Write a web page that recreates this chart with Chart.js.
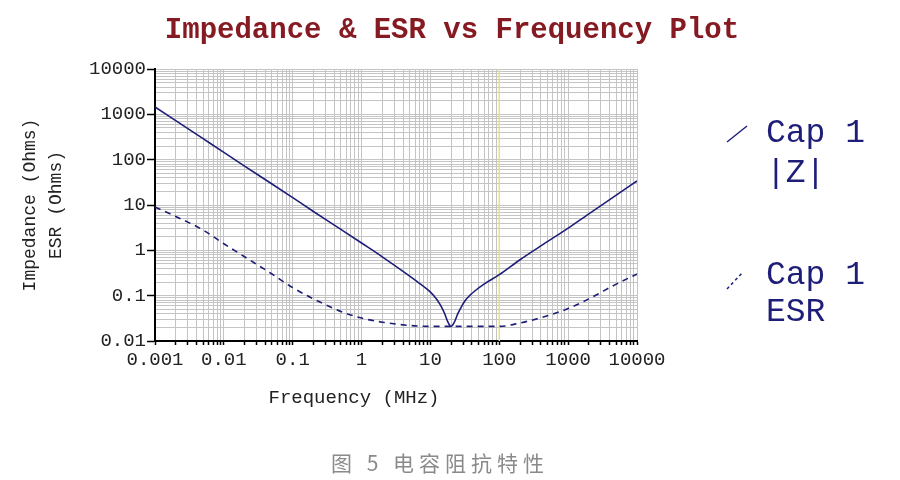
<!DOCTYPE html>
<html>
<head>
<meta charset="utf-8">
<title>Impedance & ESR vs Frequency Plot</title>
<script src="https://cdn.jsdelivr.net/npm/chart.js@4.4.1/dist/chart.umd.min.js"></script>
<style>
    html, body { margin: 0; padding: 0; background: #fff; }
</style>
</head>
<body>
<canvas id="graficaImpedancia" width="900" height="480"></canvas>
<script>
// Datos (frecuencia en MHz, valores en Ohms)
const freqZ = [0.001, 0.002, 0.005, 0.01, 0.02, 0.05, 0.1, 0.2, 0.5, 1, 2, 5, 7, 10, 12, 14, 16, 18, 20, 22, 25, 28, 32, 37, 45, 60, 100, 200, 500, 1000, 2000, 5000, 10000];
const zMag = [1450, 725, 290, 145, 72, 29, 14.5, 7.2, 2.9, 1.45, 0.72, 0.27, 0.185, 0.12, 0.088, 0.062, 0.041, 0.026, 0.021, 0.025, 0.04, 0.056, 0.078, 0.1, 0.13, 0.18, 0.29, 0.62, 1.55, 3.1, 6.4, 16.5, 34];

const freqEsr = [0.001, 0.002, 0.005, 0.01, 0.02, 0.05, 0.1, 0.2, 0.5, 1, 2, 5, 10, 20, 50, 100, 200, 500, 1000, 2000, 5000, 10000];
const esr = [9, 5.6, 2.8, 1.4, 0.72, 0.3, 0.15, 0.085, 0.045, 0.032, 0.026, 0.022, 0.021, 0.021, 0.021, 0.021, 0.025, 0.036, 0.052, 0.085, 0.18, 0.3];

// Etiquetas de los ejes
const xTickLabels = ['0.001', '0.01', '0.1', '1', '10', '100', '1000', '10000'];
const yTickLabels = ['0.01', '0.1', '1', '10', '100', '1000', '10000'];

// Textos de la leyenda y marcador vertical
const legendLines = [['Cap 1', '|Z|'], ['Cap 1', 'ESR']];
const markerFreq = 100;

const fuente = 'Liberation Mono';
const azul = '#1e1e78';

// Construye las lineas de la cuadricula: 1..9 por cada decada
function ticksLog(labels) {
    let decadas = labels.map(l => parseFloat(l));
    let lista = [];
    for (let i = 0; i < decadas.length - 1; i++) {
        for (let k = 1; k <= 9; k++) {
            lista.push(Number((k * decadas[i]).toPrecision(6)));
        }
    }
    lista.push(decadas[decadas.length - 1]);
    return lista;
}

function etiquetaPara(valor, labels) {
    let encontrada = labels.find(l => Math.abs(Math.log10(parseFloat(l)) - Math.log10(valor)) < 1e-6);
    return encontrada === undefined ? '' : encontrada;
}

function esDecada(valor, labels) {
    return etiquetaPara(valor, labels) !== '';
}

const xTicks = ticksLog(xTickLabels);
const yTicks = ticksLog(yTickLabels);

// Plugin para el titulo, la linea amarilla, la leyenda, el titulo del eje x y el pie de figura
const extras = {
    id: 'extras',
    beforeDatasetsDraw(chart) {
        let ctx = chart.ctx;
        let area = chart.chartArea;
        let x = chart.scales.x.getPixelForValue(markerFreq);
        ctx.save();
        ctx.strokeStyle = '#e2e27a';
        ctx.lineWidth = 1.5;
        ctx.beginPath();
        ctx.moveTo(x, area.top);
        ctx.lineTo(x, area.bottom);
        ctx.stroke();
        ctx.restore();
    },
    afterDraw(chart) {
        let ctx = chart.ctx;
        ctx.save();

        // Titulo principal
        ctx.fillStyle = '#861a22';
        ctx.font = 'bold 29px "' + fuente + '"';
        ctx.textAlign = 'center';
        ctx.textBaseline = 'middle';
        ctx.fillText('Impedance & ESR vs Frequency Plot', 452, 31);

        // Titulo del eje x
        ctx.fillStyle = '#222';
        ctx.font = '19px "' + fuente + '"';
        ctx.fillText('Frequency (MHz)', 354, 398);

        // Leyenda
        let posiciones = [
            { y1: 133, y2: 173, marca: [727, 142, 747, 126] },
            { y1: 275, y2: 312, marca: [727, 289, 743, 272] }
        ];
        chart.data.datasets.forEach((ds, i) => {
            let p = posiciones[i];
            ctx.strokeStyle = ds.borderColor;
            ctx.lineWidth = 1.5;
            ctx.setLineDash(ds.borderDash ? [3, 3] : []);
            ctx.beginPath();
            ctx.moveTo(p.marca[0], p.marca[1]);
            ctx.lineTo(p.marca[2], p.marca[3]);
            ctx.stroke();
            ctx.setLineDash([]);

            ctx.fillStyle = azul;
            ctx.font = '33px "' + fuente + '"';
            ctx.textAlign = 'left';
            ctx.textBaseline = 'middle';
            ctx.fillText(legendLines[i][0], 766, p.y1);
            ctx.fillText(legendLines[i][1], 766, p.y2);
        });

        // Pie de figura
        ctx.fillStyle = '#8a8a8a';
        ctx.font = '21px "Noto Sans CJK SC"';
        ctx.letterSpacing = '5px';
        ctx.textAlign = 'center';
        ctx.textBaseline = 'middle';
        ctx.fillText('图 5 电容阻抗特性', 440, 463);
        ctx.restore();
    }
};

let ctx = document.getElementById('graficaImpedancia').getContext('2d');

window.myChart = new Chart(ctx, {
    type: 'line',
    data: {
        datasets: [
            {
                label: legendLines[0].join(' '),
                data: freqZ.map((f, i) => ({ x: f, y: zMag[i] })),
                borderColor: azul,
                borderWidth: 1.6,
                pointRadius: 0,
                cubicInterpolationMode: 'monotone'
            },
            {
                label: legendLines[1].join(' '),
                data: freqEsr.map((f, i) => ({ x: f, y: esr[i] })),
                borderColor: azul,
                borderWidth: 1.6,
                borderDash: [6, 5],
                pointRadius: 0,
                cubicInterpolationMode: 'monotone'
            }
        ]
    },
    options: {
        responsive: false,
        animation: false,
        layout: {
            padding: { left: 0, right: 263, top: 69, bottom: 0 }
        },
        plugins: {
            legend: { display: false },
            tooltip: { enabled: false },
            title: { display: false }
        },
        scales: {
            x: {
                type: 'logarithmic',
                min: 0.001,
                max: 10000,
                afterBuildTicks: s => { s.ticks = xTicks.map(v => ({ value: v, major: esDecada(v, xTickLabels) })); },
                afterFit: s => { s.height = 139; },
                ticks: {
                    autoSkip: false,
                    maxRotation: 0,
                    padding: 4,
                    color: '#222',
                    font: { family: fuente, size: 19 },
                    callback: v => etiquetaPara(v, xTickLabels)
                },
                grid: {
                    color: '#c4c4c4',
                    lineWidth: 1,
                    tickLength: 4,
                    tickColor: '#000',
                    tickWidth: 1.5
                },
                border: { color: '#000', width: 2 }
            },
            y: {
                type: 'logarithmic',
                min: 0.01,
                max: 10000,
                afterBuildTicks: s => { s.ticks = yTicks.map(v => ({ value: v, major: esDecada(v, yTickLabels) })); },
                afterFit: s => { s.width = 155; },
                ticks: {
                    autoSkip: false,
                    padding: 1,
                    color: '#222',
                    font: { family: fuente, size: 19 },
                    callback: v => etiquetaPara(v, yTickLabels)
                },
                title: {
                    display: true,
                    text: ['Impedance (Ohms)', 'ESR (Ohms)'],
                    color: '#222',
                    font: { family: fuente, size: 18, lineHeight: 1.45 },
                    padding: { top: 17, bottom: 0 }
                },
                grid: {
                    color: '#c4c4c4',
                    lineWidth: 1,
                    tickLength: 8,
                    tickWidth: 1.5,
                    tickColor: c => (c.tick && esDecada(c.tick.value, yTickLabels)) ? '#000' : 'rgba(0,0,0,0)'
                },
                border: { color: '#000', width: 2 }
            }
        }
    },
    plugins: [extras]
});
</script>
</body>
</html>
